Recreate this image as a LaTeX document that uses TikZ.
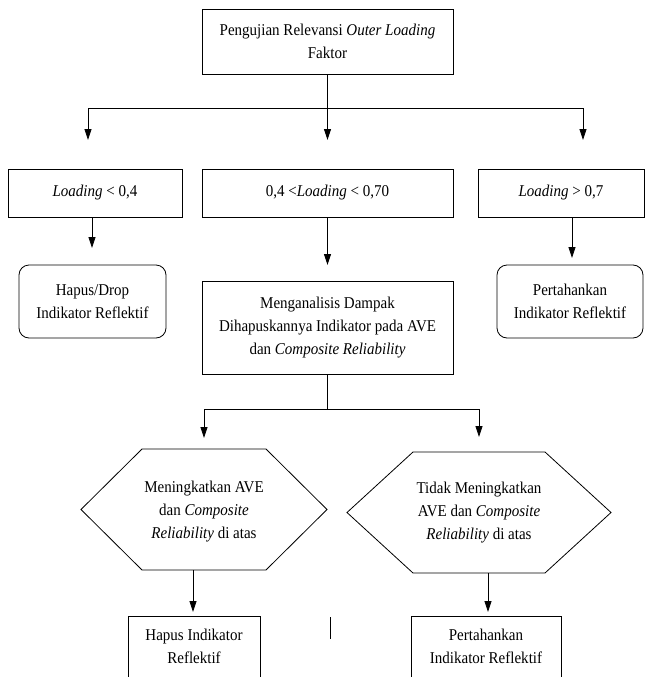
\documentclass[tikz,border=0pt]{standalone}
\usepackage{fontspec}
\setmainfont{Liberation Serif}[FakeStretch=0.91]
\usetikzlibrary{arrows.meta}
\newcommand\dfont{\fontsize{16.5}{23}\selectfont}
\tikzset{
  box/.style={draw, line width=0.8pt, align=center, inner sep=0pt, font=\dfont},
  rbox/.style={box, rounded corners=10pt},
  txt/.style={align=center, inner sep=0pt, font=\dfont},
  ln/.style={line width=0.8pt},
  arr/.style={line width=0.8pt, -{Triangle[length=11pt,width=7pt]}},
}
\begin{document}
\begin{tikzpicture}[x=1pt,y=-1pt]
\useasboundingbox (0,0) rectangle (645,677);
\clip (0,0) rectangle (645,677);
% nodes
\node[box, minimum width=251pt, minimum height=65pt] (top) at (327.5,41.5) {Pengujian Relevansi \textit{Outer Loading}\\Faktor};
\node[box, minimum width=174pt, minimum height=48pt] (l1) at (95,193) {\textit{Loading} < 0,4};
\node[box, minimum width=251pt, minimum height=48pt] (l2) at (327.5,193) {0,4 <\textit{Loading} < 0,70};
\node[box, minimum width=166pt, minimum height=48pt] (l3) at (561,193) {\textit{Loading} > 0,7};
\node[rbox, minimum width=147pt, minimum height=73pt] (r1) at (92.5,301.5) {Hapus/Drop\\Indikator Reflektif};
\node[rbox, minimum width=146pt, minimum height=73pt] (r3) at (570,301.5) {Pertahankan\\Indikator Reflektif};
\node[box, minimum width=251pt, minimum height=93pt] (m) at (327.5,327.5) {Menganalisis Dampak\\Dihapuskannya Indikator pada AVE\\dan \textit{Composite Reliability}};
% hexagons
\coordinate (h1w) at (81,509.5);
\coordinate (h1a) at (142,449);
\coordinate (h1b) at (266,449);
\coordinate (h1e) at (327,509.5);
\coordinate (h1c) at (266,570);
\coordinate (h1d) at (142,570);
\draw[ln, line join=miter] (h1w) -- (h1a) -- (h1b) -- (h1e) -- (h1c) -- (h1d) -- cycle;
\node[txt] (h1) at (204,512) {Meningkatkan AVE\\dan \textit{Composite}\\\textit{Reliability} di atas};
\coordinate (h2w) at (347,512.5);
\coordinate (h2a) at (413,452);
\coordinate (h2b) at (545,452);
\coordinate (h2e) at (611,512.5);
\coordinate (h2c) at (545,573);
\coordinate (h2d) at (413,573);
\draw[ln, line join=miter] (h2w) -- (h2a) -- (h2b) -- (h2e) -- (h2c) -- (h2d) -- cycle;
\node[txt] (h2) at (479,513) {Tidak Meningkatkan\\AVE dan \textit{Composite}\\\textit{Reliability} di atas};
\node[box, minimum width=132pt, minimum height=61pt] (b1) at (194,646.5) {Hapus Indikator\\Reflektif};
\node[box, minimum width=150pt, minimum height=61pt] (b2) at (486,646.5) {Pertahankan\\Indikator Reflektif};
% top connectors
\coordinate (jl) at (88,108);
\coordinate (jr) at (583,108);
\coordinate (al) at (88,140);
\coordinate (ac) at (327.5,140);
\coordinate (ar) at (583,140);
\draw[arr] (top.south) -- (ac);
\draw[ln] (jl) -- (jr);
\draw[arr] (jl) -- (al);
\draw[arr] (jr) -- (ar);
% row 2 arrows
\coordinate (t1) at (92,248);
\coordinate (t2) at (327.5,265);
\coordinate (t3) at (572,258);
\draw[arr] ([xshift=-3pt]l1.south) -- (t1);
\draw[arr] (l2.south) -- (t2);
\draw[arr] ([xshift=11pt]l3.south) -- (t3);
% from m
\coordinate (k) at (327.5,409);
\coordinate (kl) at (204,409);
\coordinate (kr) at (479,409);
\coordinate (kla) at (204,438);
\coordinate (kra) at (479,437);
\draw[ln] (m.south) -- (k);
\draw[ln] (kl) -- (kr);
\draw[arr] (kl) -- (kla);
\draw[arr] (kr) -- (kra);
% from hexagons
\coordinate (s1) at (193,570);
\coordinate (s2) at (488,573);
\coordinate (e1) at (193,612);
\coordinate (e2) at (488,612);
\draw[arr] (s1) -- (e1);
\draw[arr] (s2) -- (e2);
% stray mark
\coordinate (z1) at (330,617);
\coordinate (z2) at (330,639);
\draw[ln] (z1) -- (z2);
\end{tikzpicture}
\end{document}
